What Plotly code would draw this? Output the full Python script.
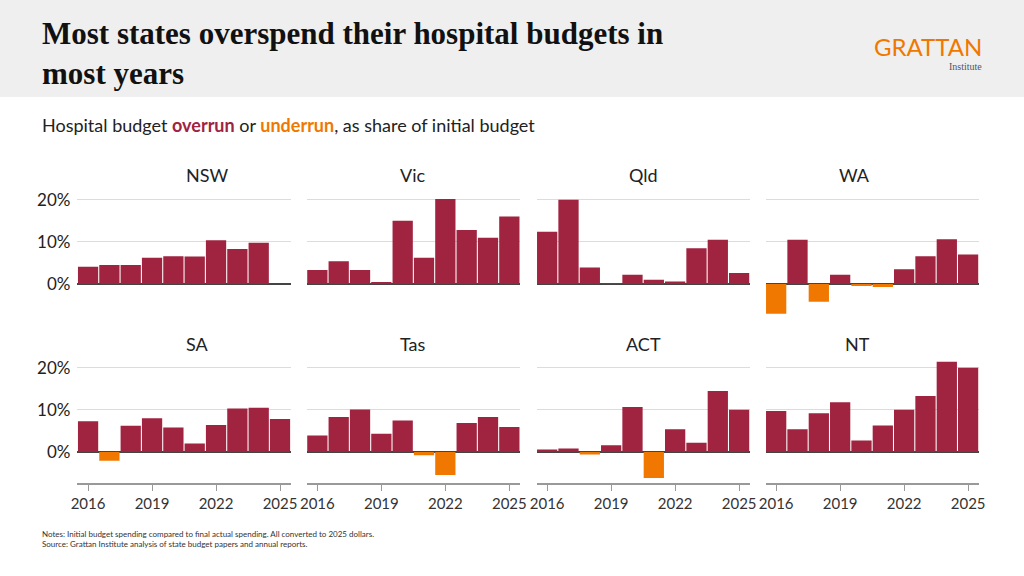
import plotly.graph_objects as go

years = list(range(2016, 2026))
states = ["NSW", "Vic", "Qld", "WA", "SA", "Tas", "ACT", "NT"]
values = {
    "NSW": [4.1, 4.5, 4.5, 6.2, 6.6, 6.5, 10.4, 8.3, 9.8, None],
    "Vic": [3.3, 5.4, 3.3, 0.4, 15.0, 6.2, 20.2, 12.8, 11.0, 16.0],
    "Qld": [12.4, 20.0, 3.9, 0.2, 2.2, 1.0, 0.6, 8.5, 10.5, 2.6],
    "WA": [-7.1, 10.5, -4.2, 2.2, -0.5, -0.7, 3.5, 6.6, 10.6, 7.0],
    "SA": [7.3, -2.1, 6.2, 8.0, 5.8, 2.0, 6.4, 10.3, 10.5, 7.8],
    "Tas": [3.9, 8.3, 10.1, 4.3, 7.5, -0.8, -5.5, 6.9, 8.3, 5.9],
    "ACT": [0.6, 0.8, -0.6, 1.6, 10.7, -6.2, 5.4, 2.2, 14.5, 10.0],
    "NT": [9.7, 5.4, 9.2, 11.8, 2.7, 6.3, 10.0, 13.3, 21.4, 20.0],
}
y_ticks = [0, 10, 20]
y_tick_labels = ["0%", "10%", "20%"]
x_ticks = [2016, 2019, 2022, 2025]

MAROON = "#A0233F"
ORANGE = "#F07800"
W, H = 1024, 576
col_x = [77.4, 306.7, 536.5, 765.5]
col_w = 213.3
row_y = [(193, 314.7), (361, 482.7)]
yr = [-7.3, 21.6]

fig = go.Figure()
layout = {}
ann = []
for i, s in enumerate(states):
    r, c = divmod(i, 4)
    n = i + 1
    xa = "x" if n == 1 else f"x{n}"
    ya = "y" if n == 1 else f"y{n}"
    vals = values[s]
    cols = [MAROON if (v is not None and v >= 0) else ORANGE for v in vals]
    fig.add_trace(go.Bar(x=years, y=vals, marker=dict(color=cols, line=dict(width=0)),
                         xaxis=xa, yaxis=ya, showlegend=False, hoverinfo="skip"))
    x0 = col_x[c] / W
    x1 = (col_x[c] + col_w) / W
    yt, yb = row_y[r]
    layout["xaxis" if n == 1 else f"xaxis{n}"] = dict(
        domain=[x0, x1], range=[2015.5, 2025.5], anchor=ya, automargin=False,
        tickvals=x_ticks, showticklabels=(r == 1), ticks="outside" if r == 1 else "",
        ticklen=6, tickcolor="#999", showline=(r == 1), linecolor="#999", linewidth=2,
        showgrid=False, zeroline=False, fixedrange=True,
        tickfont=dict(family="Lato", size=15, color="#333"))
    layout["yaxis" if n == 1 else f"yaxis{n}"] = dict(
        domain=[1 - yb / H, 1 - yt / H], range=yr, anchor=xa, automargin=False,
        tickvals=y_ticks, ticktext=y_tick_labels, showticklabels=(c == 0),
        showgrid=True, gridcolor="#dcdcdc", gridwidth=1,
        zeroline=True, zerolinecolor="#444", zerolinewidth=1.5,
        tickfont=dict(family="Lato", size=17, color="#222"), ticklabelstandoff=6)
    ann.append(dict(
        text=s, x=(x0 + x1) / 2, y=1 - (175 if r == 0 else 344) / H, xref="paper", yref="paper",
        yanchor="middle", showarrow=False, font=dict(family="Lato", size=18, color="#222")))

ann += [
    dict(text="<b>Most states overspend their hospital budgets in<br>most years</b>", x=40 / W, y=1 - 14 / H,
         xref="paper", yref="paper", xanchor="left", yanchor="top", align="left", showarrow=False,
         font=dict(family="Liberation Serif", size=31, color="#111")),
    dict(text="GRATTAN", x=984 / W, y=1 - 47 / H, xref="paper", yref="paper", xanchor="right",
         yanchor="middle", showarrow=False, font=dict(family="Lato", size=24, color="#F07800")),
    dict(text="Institute", x=984 / W, y=1 - 66 / H, xref="paper", yref="paper", xanchor="right",
         yanchor="middle", showarrow=False, font=dict(family="Liberation Serif", size=10, color="#555")),
    dict(text=f"Hospital budget <b><span style='color:{MAROON}'>overrun</span></b> or "
              f"<b><span style='color:{ORANGE}'>underrun</span></b>, as share of initial budget",
         x=40 / W, y=1 - 125 / H, xref="paper", yref="paper", xanchor="left", yanchor="middle",
         showarrow=False, font=dict(family="Lato", size=18, color="#222")),
    dict(text="Notes: Initial budget spending compared to final actual spending. All converted to 2025 dollars.<br>"
              "Source: Grattan Institute analysis of state budget papers and annual reports.",
         x=40 / W, y=1 - 527 / H, xref="paper", yref="paper", xanchor="left", yanchor="top", align="left",
         showarrow=False, font=dict(family="Lato", size=8, color="#333")),
]

fig.update_layout(width=W, height=H, margin=dict(l=0, r=0, t=0, b=0, autoexpand=False),
                  paper_bgcolor="white", plot_bgcolor="white", bargap=0.05,
                  annotations=ann,
                  shapes=[dict(type="rect", xref="paper", yref="paper", x0=0, x1=1, y0=1 - 97 / H, y1=1,
                               fillcolor="#efefef", line=dict(width=0), layer="below")],
                  **layout)
fig.write_html("out.html", config={"displayModeBar": False},
               post_script="document.body.style.margin='0';document.body.style.overflow='hidden';")
